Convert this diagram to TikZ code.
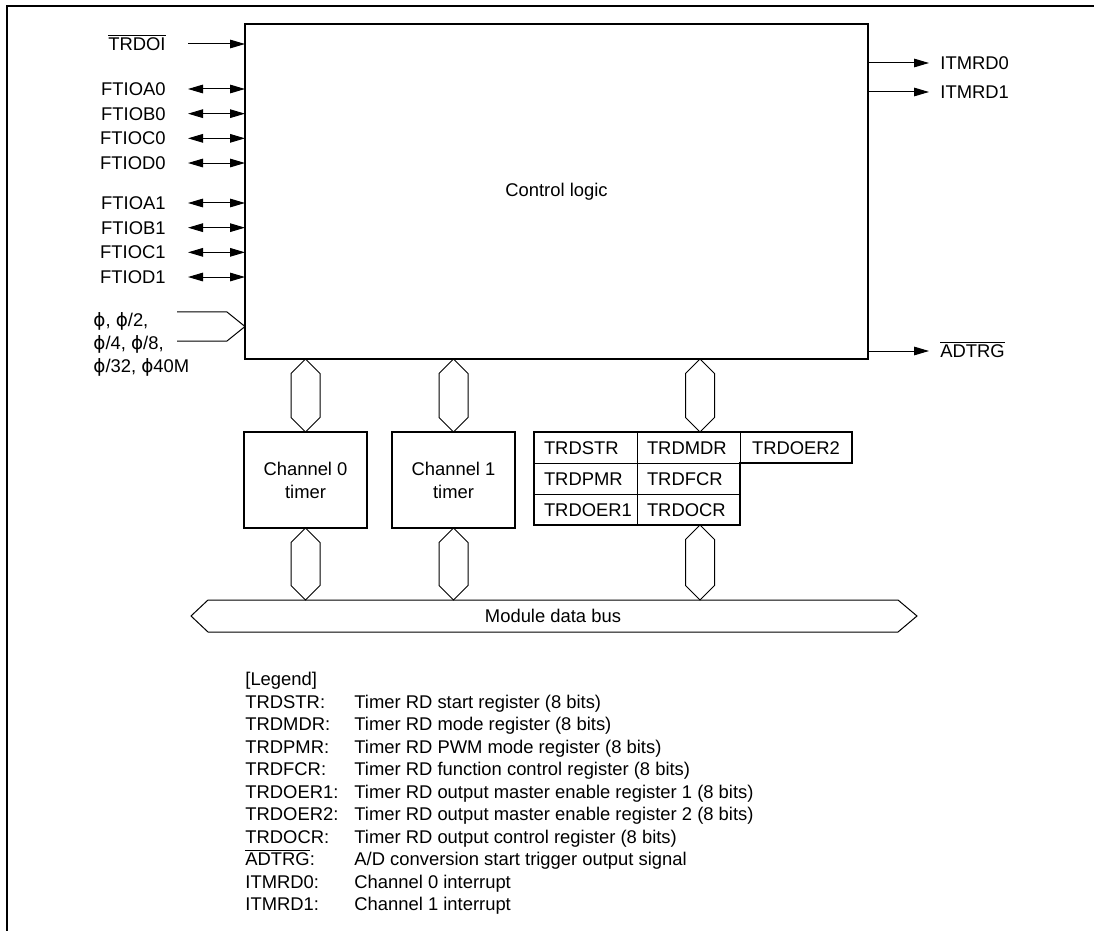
\documentclass[tikz,border=0pt]{standalone}
\usepackage{fontspec}
\setmainfont{Liberation Sans}
\newfontfamily\phifont{DejaVu Sans}
\usetikzlibrary{arrows.meta,calc}
\newcommand{\phis}{{\phifont ϕ}}
\newcommand{\ovl}[1]{$\overline{\mbox{#1}}$}
% bus link drawn as a hexagon between two tips
\newcommand{\hexlink}[2]{\draw[wire] (#1) -- ($(#1)+(-14.5,14.5)$) -- ($(#2)+(-14.5,-14.5)$) -- (#2) -- ($(#2)+(14.5,-14.5)$) -- ($(#1)+(14.5,14.5)$) -- cycle;}
\tikzset{
  frame/.style={line width=1.1pt},
  box/.style={draw, line width=1.1pt, inner sep=0pt, outer sep=0pt},
  wire/.style={line width=.5pt},
  insig/.style={anchor=east, inner sep=0pt, text height=6.6pt, text depth=0pt},
  outsig/.style={anchor=west, inner sep=0pt, text height=6.6pt, text depth=0pt},
  leg/.style={anchor=west, inner sep=0pt, text height=6.6pt, text depth=0pt},
  cell/.style={draw, line width=.5pt, inner xsep=5pt, inner ysep=0pt, outer sep=0pt,
    minimum height=15.5pt, text height=6.6pt, text depth=0pt, text width=41.5pt, align=left},
  widecell/.style={cell, text width=46pt, align=center}
}
\begin{document}
\begin{tikzpicture}[x=.5pt, y=-.5pt, font=\fontsize{9.2}{11.5}\selectfont, >={Triangle[length=7.5pt,width=4.3pt]}]
\useasboundingbox (0,0) rectangle (1094,931);
\draw[frame] (7,931) -- (7,6) -- (1094,6);

% control logic block
\node[box, minimum width=311.5pt, minimum height=167.5pt] (ctrl) at (556.5,191.5) {Control logic};

% input / output pins on the left
\node[insig] (trdoi) at (166,44) {\ovl{TRDOI}};
\draw[wire,->] ([xshift=11pt]trdoi.east) -- (trdoi -| ctrl.west);
\foreach \s [count=\i] in {A0,B0,C0,D0}{
  \node[insig] (ftio\s) at (166,{89+24.67*(\i-1)}) {FTIO\s};
  \draw[wire,<->] ([xshift=11pt]ftio\s.east) -- (ftio\s -| ctrl.west);
}
\foreach \s [count=\i] in {A1,B1,C1,D1}{
  \node[insig] (ftio\s) at (166,{203+24.67*(\i-1)}) {FTIO\s};
  \draw[wire,<->] ([xshift=11pt]ftio\s.east) -- (ftio\s -| ctrl.west);
}

% clock inputs
\node[anchor=west, inner sep=0pt, align=left] (clk) at (93,344)
  {\phis, \phis/2,\\\phis/4, \phis/8,\\\phis/32, \phis40M};
\coordinate (cktip) at (ctrl.west |- 0,326.5);
\draw[wire] ($(cktip)+(-68,-14.5)$) -- ++(50,0) -- (cktip) -- ++(-18,14.5) -- ++(-50,0);

% outputs on the right
\node[outsig] (itmrd0) at (940,63) {ITMRD0};
\node[outsig] (itmrd1) at (940,92) {ITMRD1};
\node[outsig] (adtrg) at (940,351) {\ovl{ADTRG}};
\foreach \o in {itmrd0,itmrd1,adtrg}
  \draw[wire,->] (\o -| ctrl.east) -- ([xshift=-5.5pt]\o.west);

% timers
\node[box, minimum width=61.5pt, minimum height=48pt, align=center] (ch0) at (305.5,480) {Channel 0\\timer};
\node[box, minimum width=61.5pt, minimum height=48pt, align=center] (ch1) at (453.5,480) {Channel 1\\timer};

% registers
\node[cell] (r11) at (585.5,447.5) {TRDSTR};
\node[cell] (r12) at (688.5,447.5) {TRDMDR};
\node[widecell] (r13) at (796,447.5) {TRDOER2};
\node[cell] (r21) at (585.5,478.5) {TRDPMR};
\node[cell] (r22) at (688.5,478.5) {TRDFCR};
\node[cell] (r31) at (585.5,509.5) {TRDOER1};
\node[cell] (r32) at (688.5,509.5) {TRDOCR};
\draw[line width=1.1pt] (r11.north west) -- (r13.north east) -- (r13.south east) -- (r13.south west)
  -- (r32.south east) -- (r31.south west) -- cycle;

% module data bus
\node[inner sep=0pt, outer sep=0pt, minimum width=345pt, minimum height=16pt] (bus) at (553,616) {Module data bus};
\draw[wire] (bus.north west) -- (bus.north east) -- ++(19,16) -- (bus.south east) -- (bus.south west) -- ++(-17,-16) -- cycle;

% bus links
\coordinate (rx) at (700,0);
\coordinate (u0) at (ctrl.south -| ch0.north);
\coordinate (u1) at (ctrl.south -| ch1.north);
\coordinate (u2) at (ctrl.south -| rx);
\coordinate (t2) at (r11.north -| rx);
\coordinate (b2) at (r31.south -| rx);
\hexlink{u0}{ch0.north}
\hexlink{u1}{ch1.north}
\hexlink{u2}{t2}
\hexlink{ch0.south}{bus.north -| ch0.south}
\hexlink{ch1.south}{bus.north -| ch1.south}
\hexlink{b2}{bus.north -| rx}

% legend
\node[leg] (legend) at (245,679) {[Legend]};
\foreach \reg/\txt [count=\i] in {
  TRDSTR/Timer RD start register (8 bits),
  TRDMDR/Timer RD mode register (8 bits),
  TRDPMR/Timer RD PWM mode register (8 bits),
  TRDFCR/Timer RD function control register (8 bits),
  TRDOER1/Timer RD output master enable register 1 (8 bits),
  TRDOER2/Timer RD output master enable register 2 (8 bits),
  TRDOCR/Timer RD output control register (8 bits),
  {\ovl{ADTRG}}/{A/D conversion start trigger output signal},
  ITMRD0/Channel 0 interrupt,
  ITMRD1/Channel 1 interrupt}{
  \node[leg] (leg\i) at (245,{679+22.5*\i}) {\reg:};
  \node[leg] (desc\i) at (354,{679+22.5*\i}) {\txt};
}
\end{tikzpicture}
\end{document}
